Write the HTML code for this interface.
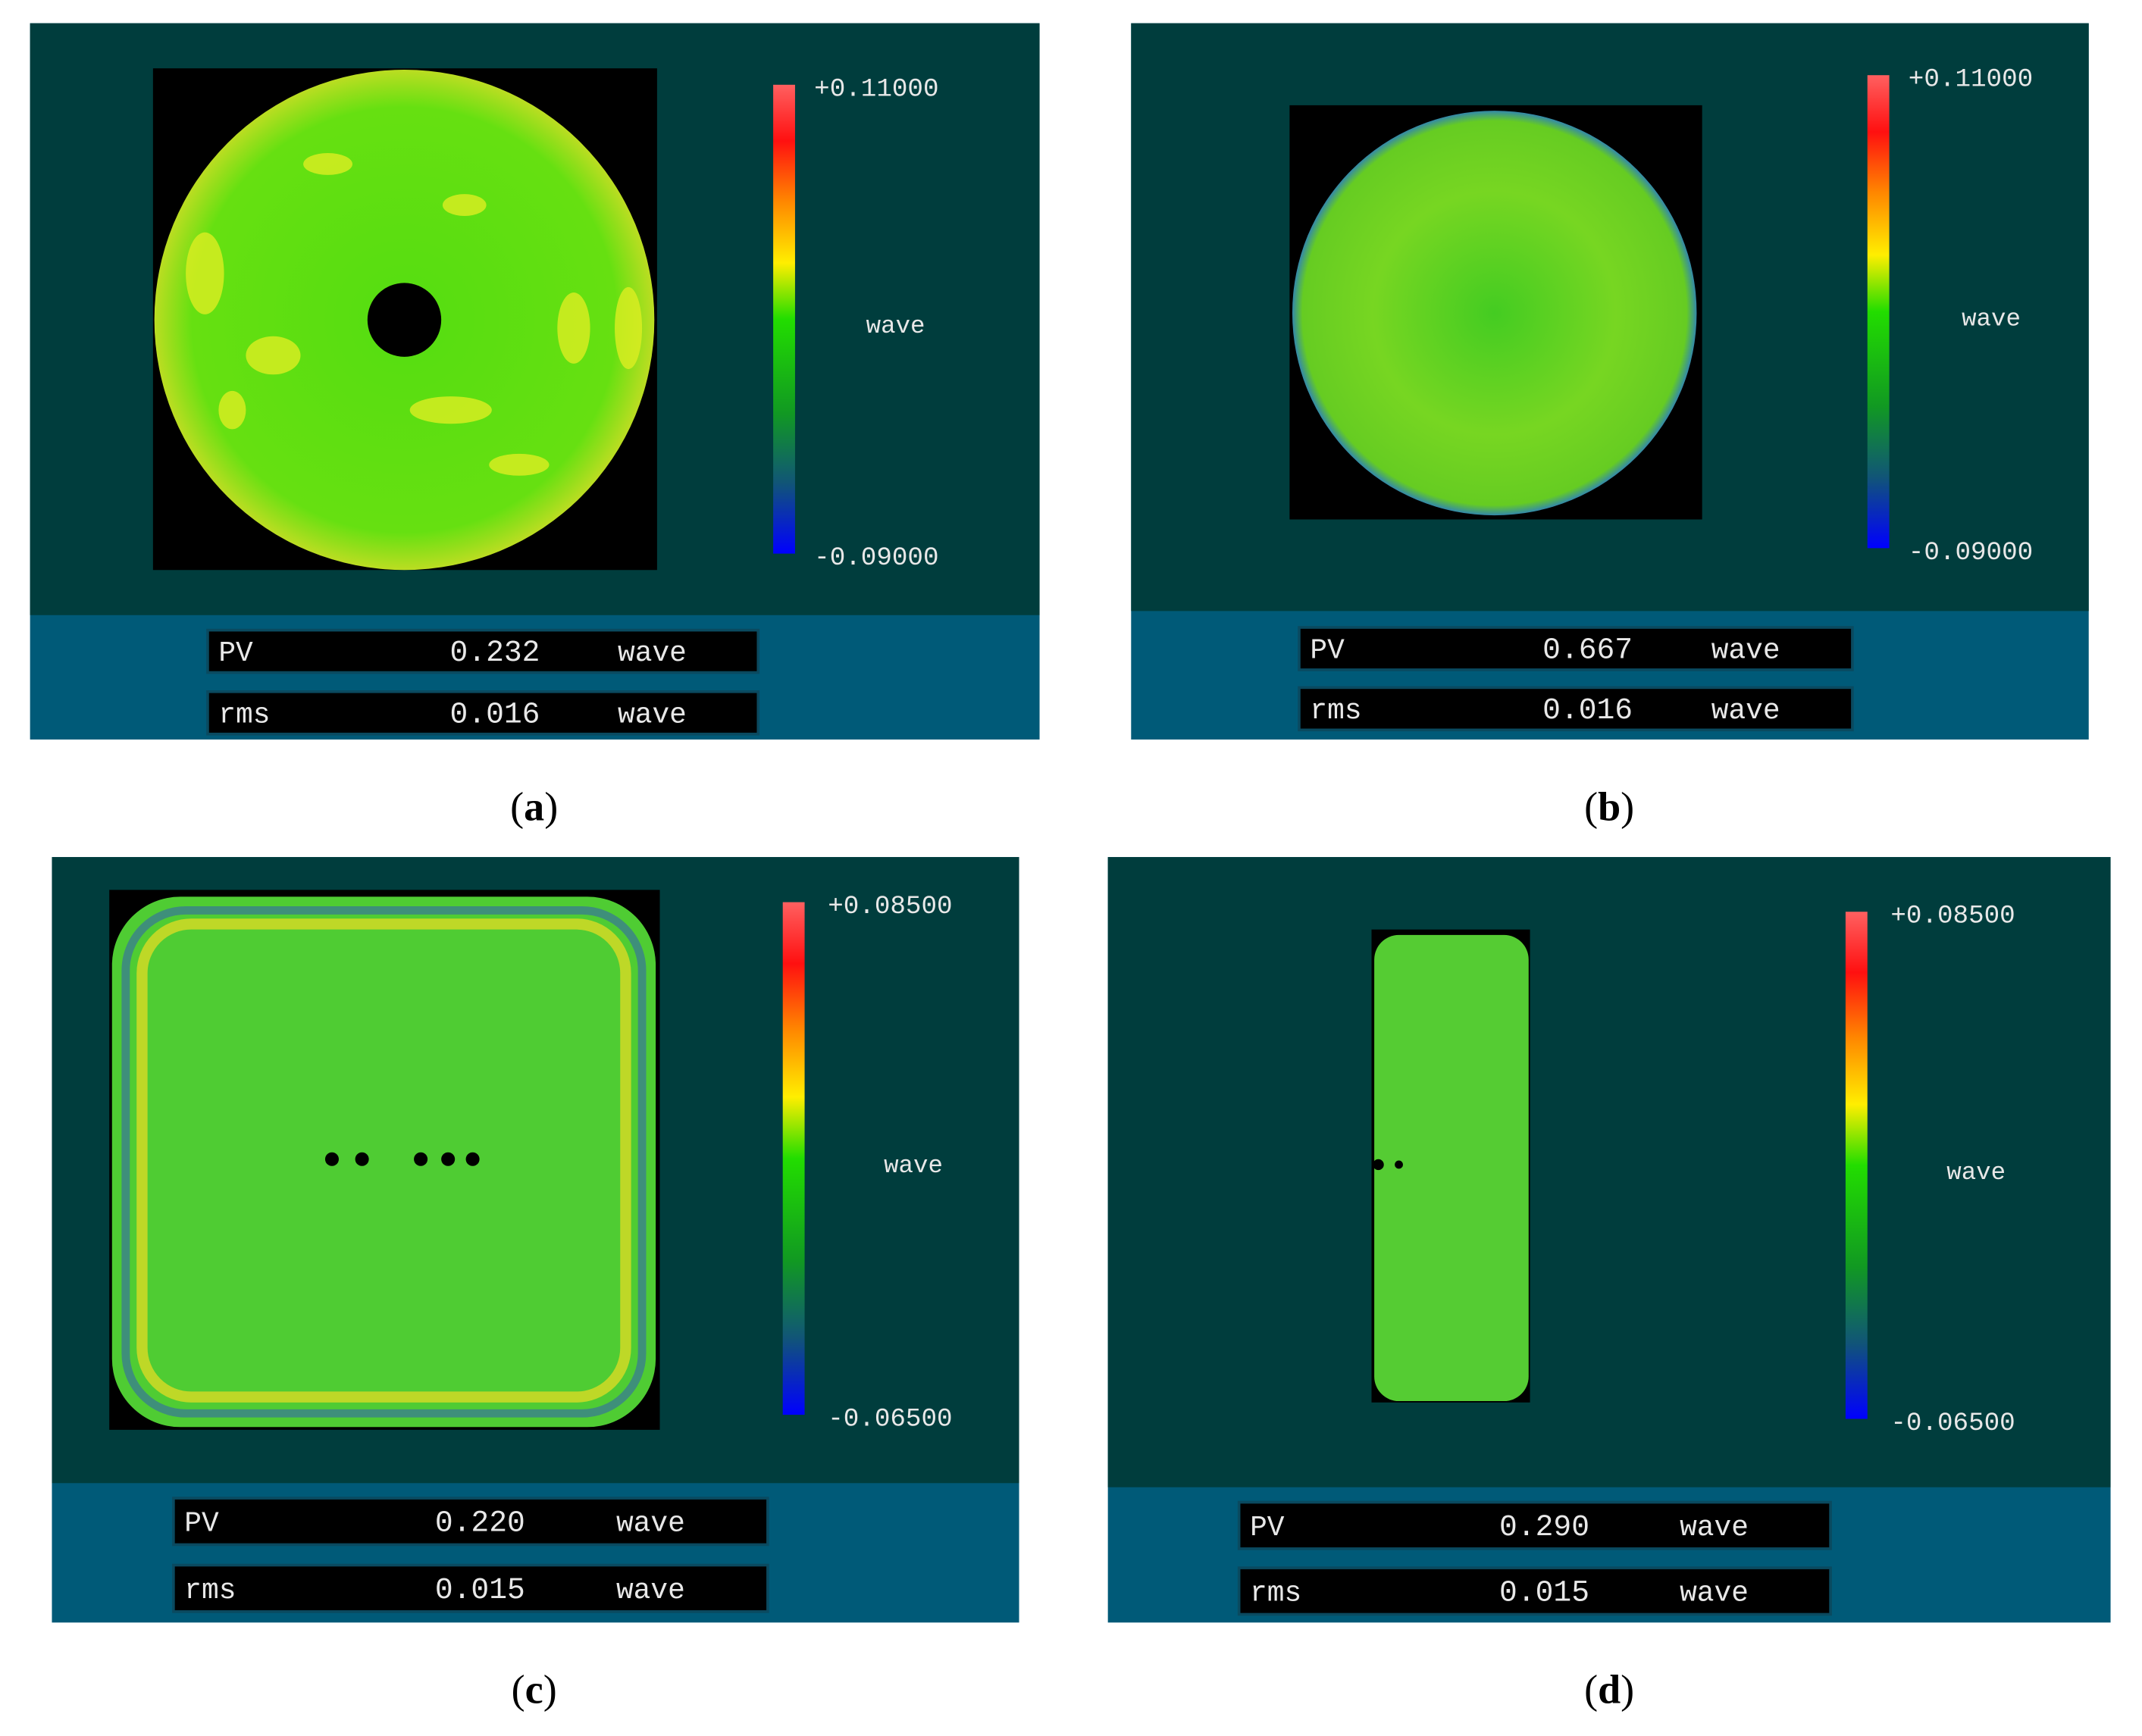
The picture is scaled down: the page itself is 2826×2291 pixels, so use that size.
<!DOCTYPE html>
<html><head><meta charset="utf-8"><style>
html,body{margin:0;padding:0;background:#fff;width:2826px;height:2291px;overflow:hidden}
svg{display:block}
.mono{font-family:"Liberation Mono",monospace;fill:#e8e8e8}
.cap{font-family:"Liberation Serif",serif;font-size:30px;fill:#000}
</style></head><body>
<svg id="fig" width="2826" height="2291" viewBox="0 0 1568 1270" preserveAspectRatio="none" xmlns="http://www.w3.org/2000/svg">
<defs>
<linearGradient id="cb" x1="0" y1="0" x2="0" y2="1">
<stop offset="0" stop-color="#ff6060"/><stop offset="0.12" stop-color="#ff1010"/>
<stop offset="0.25" stop-color="#ff8800"/><stop offset="0.38" stop-color="#ffee00"/>
<stop offset="0.5" stop-color="#22dd00"/><stop offset="0.7" stop-color="#119922"/>
<stop offset="0.85" stop-color="#115577"/><stop offset="1" stop-color="#0000ff"/>
</linearGradient>
<radialGradient id="ga" cx="0.5" cy="0.5" r="0.5">
<stop offset="0" stop-color="#55dd11"/><stop offset="0.85" stop-color="#66e011"/><stop offset="1" stop-color="#bbdd22"/>
</radialGradient>
<radialGradient id="gb" cx="0.5" cy="0.5" r="0.5">
<stop offset="0" stop-color="#44cc22"/><stop offset="0.6" stop-color="#77d622"/><stop offset="0.95" stop-color="#66cc22"/><stop offset="1" stop-color="#3388aa"/>
</radialGradient>
</defs>
<g id="panels"></g>
</svg>
<script>
const panelIds = ['a','b','c','d'];
const pvValues = ['0.232','0.667','0.220','0.290'];
const rmsValues = ['0.016','0.016','0.015','0.015'];
const cbMax = ['+0.11000','+0.11000','+0.08500','+0.08500'];
const cbMin = ['-0.09000','-0.09000','-0.06500','-0.06500'];
const L = [
 {x:22,y:17,w:739,h:524,dark:433,bx:112,by:50,bw:369,bh:367,cbx:566,cby:62,cbh:343,lx:596,wx:634,px:152,pw:403,py:461,ry:506,bh2:31,cx:391,cy:590},
 {x:828,y:17,w:701,h:524,dark:430,bx:944,by:77,bw:302,bh:303,cbx:1367,cby:55,cbh:346,lx:1397,wx:1436,px:951,pw:405,py:459,ry:503,bh2:31,cx:1178,cy:590},
 {x:38,y:627,w:708,h:560,dark:458,bx:80,by:651,bw:403,bh:395,cbx:573,cby:660,cbh:375,lx:606,wx:647,px:127,pw:435,py:1096,ry:1145,bh2:34,cx:391,cy:1236},
 {x:811,y:627,w:734,h:560,dark:461,bx:1004,by:680,bw:116,bh:346,cbx:1351,cby:667,cbh:371,lx:1384,wx:1425,px:907,pw:433,py:1099,ry:1147,bh2:34,cx:1178,cy:1236}
];
const NS='http://www.w3.org/2000/svg';
const root=document.getElementById('panels');
function mk(tag,attrs,parent,txt){const e=document.createElementNS(NS,tag);for(const k in attrs)e.setAttribute(k,attrs[k]);if(txt!==undefined)e.textContent=txt;parent.appendChild(e);return e;}
panelIds.forEach((id,i)=>{
 const p=L[i];
 const g=mk('g',{},root);
 
 
 mk('rect',{x:p.x,y:p.y,width:p.w,height:p.h,fill:'#005a78'},g);
 mk('rect',{x:p.x,y:p.y,width:p.w,height:p.dark,fill:'#003d3d'},g);
 const img=mk('g',{},g);
 
 
 mk('rect',{x:p.bx,y:p.by,width:p.bw,height:p.bh,fill:'#000'},img);
 if(id==='a'){
  mk('circle',{cx:296,cy:234,r:183,fill:'url(#ga)'},img);
  [[150,200,14,30],[200,260,20,14],[330,300,30,10],[420,240,12,26],[460,240,10,30],[340,150,16,8],[240,120,18,8],[380,340,22,8],[170,300,10,14]].forEach(b=>mk('ellipse',{cx:b[0],cy:b[1],rx:b[2],ry:b[3],fill:'#ddee22',opacity:0.8},img));
  mk('circle',{cx:296,cy:234,r:27,fill:'#000'},img);
 } else if(id==='b'){
  mk('circle',{cx:1094,cy:229,r:148,fill:'url(#gb)'},img);
 } else if(id==='c'){
  mk('rect',{x:82,y:656,width:398,height:388,rx:50,fill:'#4fcc33'},img);
  mk('rect',{x:92,y:666,width:378,height:368,rx:44,fill:'none',stroke:'#3366aa',"stroke-width":6,opacity:0.6},img);
  mk('rect',{x:104,y:676,width:354,height:346,rx:36,fill:'none',stroke:'#eedd22',"stroke-width":8,opacity:0.7},img);
  [243,265,308,328,346].forEach(x=>mk('circle',{cx:x,cy:848,r:5,fill:'#000'},img));
 } else {
  mk('rect',{x:1006,y:684,width:113,height:341,rx:18,fill:'#55cc33'},img);
  mk('circle',{cx:1009,cy:852,r:4,fill:'#000'},img);
  mk('circle',{cx:1024,cy:852,r:3,fill:'#000'},img);
 }
 const cb=mk('rect',{x:p.cbx,y:p.cby,width:16,height:p.cbh,fill:'url(#cb)'},g);
 
 
 const t1=mk('text',{x:p.lx,y:p.cby+8,class:'mono','font-size':19},g,cbMax[i]);
 
 
 const t2=mk('text',{x:p.lx,y:p.cby+p.cbh+8,class:'mono','font-size':19},g,cbMin[i]);
 
 
 const t3=mk('text',{x:p.wx,y:p.cby+p.cbh/2+10,class:'mono','font-size':18},g,'wave');
 
 
 [[p.py,'PV',pvValues[i],'pv-readout'],[p.ry,'rms',rmsValues[i],'rms-readout']].forEach(r=>{
  const rg=mk('g',{},g);
  
  
  mk('rect',{x:p.px,y:r[0],width:p.pw,height:p.bh2,fill:'#000',stroke:'#0a4a60','stroke-width':2},rg);
  const ty=r[0]+p.bh2/2+7;
  mk('text',{x:p.px+8,y:ty,class:'mono','font-size':21},rg,r[1]);
  mk('text',{x:p.px+p.pw*0.44,y:ty,class:'mono','font-size':22},rg,r[2]);
  mk('text',{x:p.px+p.pw*0.745,y:ty,class:'mono','font-size':21},rg,'wave');
 });
 const c=mk('text',{x:p.cx,y:p.cy+10,class:'cap','text-anchor':'middle'},g);
 
 
 mk('tspan',{},c,'(');
 mk('tspan',{'font-weight':'bold'},c,id);
 mk('tspan',{},c,')');
});
</script>
</body></html>
